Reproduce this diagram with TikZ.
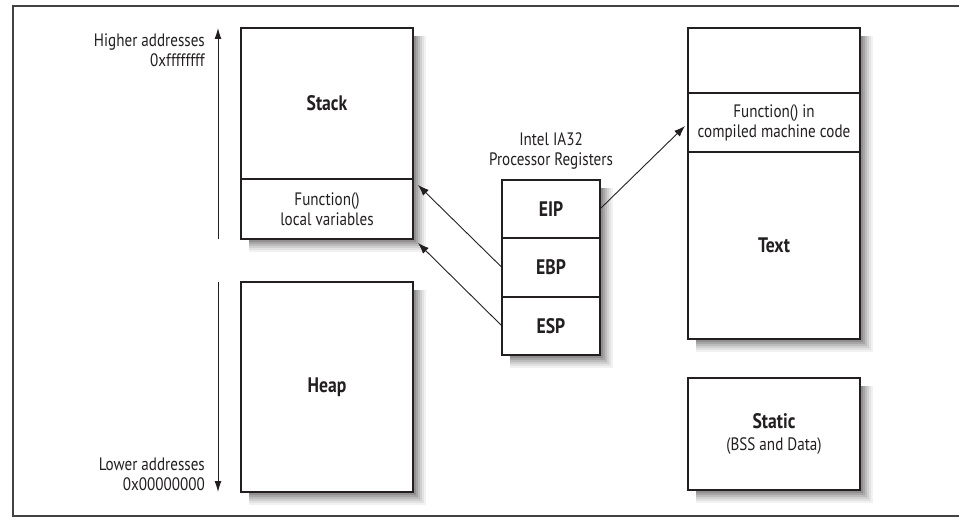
\documentclass[tikz,border=0pt]{standalone}
\usepackage{fontspec}
\setmainfont{PT Sans}[FakeStretch=0.84]
\usetikzlibrary{arrows.meta,calc}
\definecolor{ink}{HTML}{231F20}
\tikzset{
  box/.style={draw=ink, line width=1.8pt, fill=white, inner sep=0pt, outer sep=0pt,
    align=center, text=ink, font=\fontsize{18}{20}\selectfont},
  lbl/.style={text=ink, inner sep=0pt, font=\fontsize{18}{20}\selectfont},
  ptr/.style={draw=ink, line width=0.9pt, -{Latex[length=11pt,width=8pt]}},
  addr/.style={draw=ink, line width=1pt, -{Latex[length=11pt,width=7pt]}},
  shline/.style={line width=2.1pt, line cap=butt, line join=miter}
}
\newcommand\softshadow[4]{% x1 y1 x2 y2 of the box outline; drawn outside the box only
  \draw[shline, ink!6]  (#3+12,#2+8) -- (#3+12,#4+12) -- (#1+8,#4+12);
  \draw[shline, ink!13] (#3+10,#2+8) -- (#3+10,#4+10) -- (#1+8,#4+10);
  \draw[shline, ink!21] (#3+8,#2+8) -- (#3+8,#4+8) -- (#1+8,#4+8);
  \draw[shline, ink!30] (#3+6,#2+8) -- (#3+6,#4+6) -- (#1+8,#4+6);
  \draw[shline, ink!40] (#3+4,#2+8) -- (#3+4,#4+4) -- (#1+8,#4+4);
  \draw[shline, ink!50] (#3+2,#2+8) -- (#3+2,#4+2) -- (#1+8,#4+2);
}
\begin{document}
\begin{tikzpicture}[x=1pt,y=-1pt]
\useasboundingbox (0,0) rectangle (959,524);
\draw[ink!85, line width=1.3pt] (970,6) -- (13,6) -- (13,516) -- (970,516);

% left column
\node[box, minimum width=172pt, minimum height=151pt] (stack) at (327,103.5) {\bfseries\fontsize{21}{22}\selectfont Stack};
\node[box, minimum width=172pt, minimum height=60pt] (stackfn) at (327,209) {Function()\\local variables};
\node[box, minimum width=172pt, minimum height=210pt] (heap) at (327,387) {\bfseries\fontsize{21}{22}\selectfont Heap};

% registers
\node[box, minimum width=98pt, minimum height=58pt] (eip) at (551,209) {\bfseries\fontsize{21}{22}\selectfont EIP};
\node[box, minimum width=98pt, minimum height=59pt] (ebp) at (551,267.5) {\bfseries\fontsize{21}{22}\selectfont EBP};
\node[box, minimum width=98pt, minimum height=58pt] (esp) at (551,326) {\bfseries\fontsize{21}{22}\selectfont ESP};
\node[lbl, align=center] (regt) at (551,151) {Intel IA32\\Processor Registers};

% right column
\node[box, minimum width=172pt, minimum height=65pt] (ttop) at (774,60.5) {};
\node[box, minimum width=172pt, minimum height=59pt] (tfn) at (774,122.5) {Function() in\\compiled machine code};
\node[box, minimum width=172pt, minimum height=187pt] (text) at (774,245.5) {\bfseries\fontsize{21}{22}\selectfont Text};
\node[box, minimum width=172pt, minimum height=112pt] (static) at (774,434) {{\bfseries\fontsize{21}{22}\selectfont Static}\\[2pt](BSS and Data)};

% soft drop shadows, outside the boxes
\softshadow{241}{28}{413}{239}
\softshadow{241}{282}{413}{492}
\softshadow{502}{180}{600}{355}
\softshadow{688}{28}{860}{339}
\softshadow{688}{378}{860}{490}

% address labels and arrows
\node[lbl, align=right, anchor=east] (hi) at (205,50) {Higher addresses\\0xffffffff};
\node[lbl, align=right, anchor=east] (lo) at (205,474) {Lower addresses\\0x00000000};
\coordinate (upa) at (218,239);
\coordinate (upb) at (218,28);
\coordinate (dna) at (218,282);
\coordinate (dnb) at (218,492);
\draw[addr] (upa) -- (upb);
\draw[addr] (dna) -- (dnb);

% pointers
\coordinate (ebpT) at ($(stackfn.north east)+(5,6)$);
\coordinate (espT) at ($(stackfn.south east)+(5,4)$);
\coordinate (eipT) at ($(tfn.west)+(-3,3.5)$);
\draw[ptr] (ebp.west) -- (ebpT);
\draw[ptr] (esp.west) -- (espT);
\draw[ptr] (eip.east) -- (eipT);
\end{tikzpicture}
\end{document}
